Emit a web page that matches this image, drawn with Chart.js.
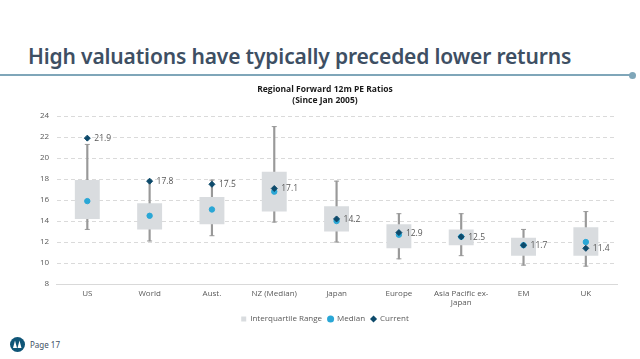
<!DOCTYPE html>
<html>
<head>
<meta charset="utf-8">
<script src="https://cdn.jsdelivr.net/npm/chart.js@4.4.1/dist/chart.umd.min.js"></script>
<style>
  html,body{margin:0;padding:0;background:#fff;}
  body{width:640px;height:359px;position:relative;overflow:hidden;font-family:"Noto Sans",sans-serif;}
  #heading{position:absolute;left:28px;top:42px;font-family:"Noto Sans",sans-serif;font-weight:600;font-size:21px;color:#3e4f63;white-space:nowrap;letter-spacing:-0.15px;}
  #rule{position:absolute;left:0;top:74px;width:632px;height:2px;background:#7fa6b9;}
  #dot{position:absolute;left:629px;top:71.5px;width:7px;height:7px;border-radius:50%;background:#7fa6b9;}
  #wrap{position:absolute;left:0;top:81px;width:640px;height:252px;}
  #footer{position:absolute;left:10px;top:337px;display:flex;align-items:center;font-size:8px;color:#3e4f63;}
  #footer span{margin-left:5px;}
</style>
</head>
<body>
<div id="heading">High valuations have typically preceded lower returns</div>
<div id="rule"></div><div id="dot"></div>
<div id="wrap"><canvas id="c"></canvas></div>
<div id="footer">
  <svg width="15" height="15" viewBox="0 0 15 15"><circle cx="7.5" cy="7.5" r="7.5" fill="#0f5577"/><path d="M5 3.5 L3 11 L7 11 Z M9.5 3.5 L7.5 11 L11.5 11 Z" fill="#fff"/></svg>
  <span>Page 17</span>
</div>
<script>
const categories = [['US',''],['World',''],['Aust.',''],['NZ (Median)',''],['Japan',''],['Europe',''],['Asia Pacific ex-','Japan'],['EM',''],['UK','']];
const whiskerMin = [13.2,12.1,12.6,13.9,12.0,10.4,10.7,9.8,9.7];
const q1 = [14.2,13.2,13.7,14.9,13.0,11.4,11.7,10.7,10.7];
const q3 = [17.9,15.7,16.3,18.7,15.4,13.7,13.2,12.4,13.4];
const whiskerMax = [21.3,17.9,17.9,23.0,17.8,14.7,14.7,13.2,14.9];
const medians = [15.9,14.5,15.1,16.8,14.0,12.7,12.5,11.7,12.0];
const current = [21.9,17.8,17.5,17.1,14.2,12.9,12.5,11.7,11.4];
const yTicks = [8,10,12,14,16,18,20,22,24];

const textColor = '#595959';
const labelPlugin = {
  id:'curLabels',
  afterDatasetsDraw(chart){
    const meta = chart.getDatasetMeta(chart.data.datasets.findIndex(d=>d.label==='Current'));
    const ctx = chart.ctx;
    ctx.save();
    ctx.font = '8.5px "Open Sans", sans-serif';
    ctx.fillStyle = textColor;
    ctx.textBaseline = 'middle';
    meta.data.forEach((pt,i)=>{
      ctx.fillText(current[i].toFixed(1), pt.x+7, pt.y+0.5);
    });
    ctx.restore();
  }
};

new Chart(document.getElementById('c'), {
  data:{
    labels: categories,
    datasets:[
      {type:'bar', label:'Whisker', data: categories.map((_,i)=>[whiskerMin[i],whiskerMax[i]]), backgroundColor:'#999999', barThickness:1.5, grouped:false, order:6},
      {type:'bar', label:'Interquartile Range', data: categories.map((_,i)=>[q1[i],q3[i]]), backgroundColor:'#d9dcdf', borderColor:'#d9dcdf', barPercentage:0.4, categoryPercentage:1, grouped:false, order:5},
      {type:'line', label:'CapMin', data: whiskerMin, showLine:false, pointStyle:'line', pointRadius:2.5, pointBorderColor:'#999999', pointBorderWidth:1, order:4},
      {type:'line', label:'CapMax', data: whiskerMax, showLine:false, pointStyle:'line', pointRadius:2.5, pointBorderColor:'#999999', pointBorderWidth:1, order:3},
      {type:'line', label:'Median', data: medians, showLine:false, pointStyle:'circle', pointRadius:2.7, pointBackgroundColor:'#2aa7d6', pointBorderColor:'#2aa7d6', backgroundColor:'#2aa7d6', borderColor:'#2aa7d6', order:2},
      {type:'line', label:'Current', data: current, showLine:false, pointStyle:'rectRot', pointRadius:3, pointBackgroundColor:'#0d4a6b', pointBorderColor:'#0d4a6b', backgroundColor:'#0d4a6b', borderColor:'#0d4a6b', order:1}
    ]
  },
  options:{
    responsive:true, maintainAspectRatio:false, animation:false,
    layout:{padding:{left:33,right:23,top:0,bottom:0}},
    plugins:{
      title:{display:true, text:['Regional Forward 12m PE Ratios','(Since Jan 2005)'], color:'#1a1a1a', font:{family:'"Open Sans", sans-serif', size:8.5, weight:'bold', lineHeight:1.3}, padding:{top:3,bottom:10}},
      legend:{position:'bottom', labels:{
        usePointStyle:true, boxWidth:5, boxHeight:5, color:textColor, font:{family:'"Open Sans", sans-serif', size:8}, padding:6,
        generateLabels:(chart)=>{
          return [
            {text:'Interquartile Range', pointStyle:'rect', fillStyle:'#d9dcdf', strokeStyle:'#d9dcdf', lineWidth:0, datasetIndex:1, fontColor:textColor},
            {text:'Median', pointStyle:'circle', fillStyle:'#2aa7d6', strokeStyle:'#2aa7d6', lineWidth:0, datasetIndex:4, fontColor:textColor},
            {text:'Current', pointStyle:'rectRot', fillStyle:'#0d4a6b', strokeStyle:'#0d4a6b', lineWidth:0, datasetIndex:5, fontColor:textColor}
          ];
        }
      }},
      tooltip:{enabled:false}
    },
    scales:{
      x:{grid:{display:false, drawTicks:false}, border:{color:'#d9d9d9'}, afterFit:(s)=>{s.height=25;}, ticks:{color:textColor, font:{family:'"Open Sans", sans-serif', size:8, lineHeight:1.15}, maxRotation:0, autoSkip:false, padding:5}},
      y:{min:8, max:24, afterBuildTicks:(ax)=>{ax.ticks = yTicks.map(v=>({value:v}));},
         grid:{color:'#d0d0d0', lineWidth:0.8, drawTicks:false}, border:{display:true, color:'rgba(0,0,0,0)', dash:[4,3]},
         ticks:{color:textColor, font:{family:'"Open Sans", sans-serif', size:8}, padding:7}}
    }
  },
  plugins:[labelPlugin]
});
</script>
</body>
</html>
